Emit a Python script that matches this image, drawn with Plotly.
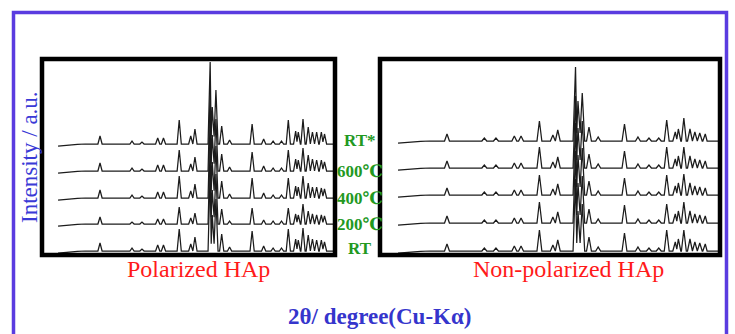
import plotly.graph_objects as go

W, H = 735, 334

# ---- data ----
peak_2theta = [10.8, 16.9, 18.8, 21.8, 22.9, 25.9, 28.1, 28.9, 31.8, 32.2, 32.9, 34.0, 35.5,
               39.8, 42.0, 43.8, 45.4, 46.7, 48.1, 48.6, 49.5, 50.5, 51.3, 52.1, 53.0, 53.6]

sample_labels = ["RT", "200℃", "400℃", "600℃", "RT*"]

# Polarized HAp (left panel) peak heights (a.u.), one list per sample
pol_RT    = [8, 3, 2, 6, 6, 22, 7, 14, 80, 36, 52, 17, 4, 20, 5, 3, 3, 22, 12, 11, 23, 16, 12, 11, 11, 9]
pol_200   = [7, 2, 2, 5, 5, 17, 6, 11, 78, 34, 50, 15, 3, 16, 4, 3, 3, 16, 10, 9, 20, 13, 10, 9, 9, 8]
pol_400   = [8, 3, 2, 6, 6, 22, 7, 14, 80, 36, 52, 17, 4, 20, 5, 3, 3, 20, 12, 11, 22, 15, 11, 11, 10, 9]
pol_600   = [8, 3, 2, 6, 6, 21, 7, 14, 80, 36, 52, 17, 4, 19, 5, 3, 3, 21, 12, 11, 23, 16, 12, 11, 11, 9]
pol_RTs   = [8, 3, 2, 6, 6, 24, 8, 15, 82, 37, 54, 18, 4, 20, 5, 3, 3, 24, 13, 12, 25, 17, 12, 12, 12, 10]

# Non-polarized HAp (right panel) peak heights (a.u.)
non_RT    = [7, 3, 3, 5, 5, 21, 6, 11, 72, 40, 47, 14, 4, 18, 4, 3, 3, 21, 9, 12, 21, 12, 9, 8, 7, 0]
non_200   = [7, 3, 3, 5, 5, 21, 6, 11, 72, 40, 47, 14, 4, 18, 4, 3, 3, 19, 9, 12, 21, 12, 9, 8, 7, 0]
non_400   = [7, 3, 3, 5, 5, 20, 6, 11, 72, 40, 47, 14, 4, 17, 4, 3, 3, 20, 9, 12, 21, 12, 9, 8, 7, 0]
non_600   = [7, 3, 3, 5, 5, 21, 6, 11, 72, 40, 47, 14, 4, 17, 4, 3, 3, 21, 9, 12, 21, 12, 9, 8, 7, 0]
non_RTs   = [7, 3, 3, 5, 5, 20, 6, 11, 74, 40, 48, 14, 4, 17, 4, 3, 3, 21, 9, 12, 23, 12, 9, 8, 7, 0]

# background start of each scan (2theta, intensity)
bg_x = [2.8, 4.5, 6.5, 8.0]
bg_y = [-2.2, -1.2, -0.4, 0.0]
end_x = 55.4

# vertical stacking offsets (a.u.) for RT, 200, 400, 600, RT*
pol_offsets = [2, 29, 55, 82, 109]
non_offsets = [2, 30, 58, 85, 112]

pol_sets = [pol_RT, pol_200, pol_400, pol_600, pol_RTs]
non_sets = [non_RT, non_200, non_400, non_600, non_RTs]

HW = 0.4  # half width of a drawn peak, degrees


def build_profile(pos, hts, off):
    xs = list(bg_x)
    ys = [v + off for v in bg_y]
    n = len(pos)
    for i in range(n):
        p, h = pos[i], hts[i]
        if p - HW > xs[-1]:
            xs.append(p - HW); ys.append(off)
        xs.append(p); ys.append(off + h)
        if i + 1 < n and pos[i + 1] - HW < p + HW:
            xs.append((p + pos[i + 1]) / 2)
            ys.append(off + 0.2 * min(h, hts[i + 1]))
        else:
            xs.append(p + HW); ys.append(off)
    xs.append(end_x); ys.append(off)
    return xs, ys


def px_x(v):
    return v / W


def px_y(v):
    return 1 - v / H


fig = go.Figure()

for hts, off in zip(pol_sets, pol_offsets):
    xs, ys = build_profile(peak_2theta, hts, off)
    fig.add_trace(go.Scatter(x=xs, y=ys, mode="lines", xaxis="x", yaxis="y",
                             line=dict(color="#1c1c1c", width=1.25), showlegend=False,
                             hoverinfo="skip"))
for hts, off in zip(non_sets, non_offsets):
    xs, ys = build_profile(peak_2theta, hts, off)
    fig.add_trace(go.Scatter(x=xs, y=ys, mode="lines", xaxis="x2", yaxis="y2",
                             line=dict(color="#1c1c1c", width=1.25), showlegend=False,
                             hoverinfo="skip"))

# panel geometry (pixels, inner area)
L_in = (44, 333)
R_in = (382, 718)
Y_in = (61, 253)

ax_common = dict(showgrid=False, zeroline=False, showticklabels=False, ticks="", showline=False)
fig.update_layout(
    width=W, height=H, margin=dict(l=0, r=0, t=0, b=0),
    paper_bgcolor="white", plot_bgcolor="white",
    xaxis=dict(domain=[px_x(L_in[0]), px_x(L_in[1])], range=[0.12, 55.22], **ax_common),
    yaxis=dict(domain=[px_y(Y_in[1]), px_y(Y_in[0])], range=[0, 192], **ax_common),
    xaxis2=dict(domain=[px_x(R_in[0]), px_x(R_in[1])], range=[0.18, 55.08], anchor="y2", **ax_common),
    yaxis2=dict(domain=[px_y(Y_in[1]), px_y(Y_in[0])], range=[0, 192], anchor="x2", **ax_common),
)

shapes = []
# outer blue frame
shapes.append(dict(type="rect", xref="paper", yref="paper",
                   x0=px_x(13.5), x1=px_x(726.5), y0=px_y(345), y1=px_y(12.5),
                   line=dict(color="#5a3ce0", width=3.5)))
# panel borders
shapes.append(dict(type="rect", xref="paper", yref="paper",
                   x0=px_x(42), x1=px_x(335), y0=px_y(255), y1=px_y(59),
                   line=dict(color="black", width=4.5)))
shapes.append(dict(type="rect", xref="paper", yref="paper",
                   x0=px_x(380), x1=px_x(720), y0=px_y(255), y1=px_y(59),
                   line=dict(color="black", width=4.5)))
fig.update_layout(shapes=shapes)

serif = "Liberation Serif, Times New Roman, DejaVu Serif, serif"
ann = []
label_y = [248, 224, 198, 172, 140]
for lab, yy in zip(sample_labels, label_y):
    ann.append(dict(text="<b>%s</b>" % lab, xref="paper", yref="paper",
                    x=px_x(360), y=px_y(yy), xanchor="center", yanchor="middle",
                    showarrow=False, font=dict(family=serif, size=17, color="#23991f")))
ann.append(dict(text="Polarized HAp", xref="paper", yref="paper", x=px_x(198), y=px_y(269),
                xanchor="center", yanchor="middle", showarrow=False,
                font=dict(family=serif, size=24, color="#ff1a1a")))
ann.append(dict(text="Non-polarized HAp", xref="paper", yref="paper", x=px_x(568), y=px_y(269),
                xanchor="center", yanchor="middle", showarrow=False,
                font=dict(family=serif, size=24, color="#ff1a1a")))
ann.append(dict(text="<b>2θ/ degree(Cu-Kα)</b>", xref="paper", yref="paper", x=px_x(379), y=px_y(316),
                xanchor="center", yanchor="middle", showarrow=False,
                font=dict(family=serif, size=23, color="#3535cc")))
ann.append(dict(text="Intensity / a.u.", xref="paper", yref="paper", x=px_x(29), y=px_y(157),
                xanchor="center", yanchor="middle", showarrow=False, textangle=-90,
                font=dict(family=serif, size=23, color="#3a3ad6")))
fig.update_layout(annotations=ann)

fig.write_html("out.html", config={"displayModeBar": False},
               post_script="document.body.style.margin='0';document.body.style.overflow='hidden';")
